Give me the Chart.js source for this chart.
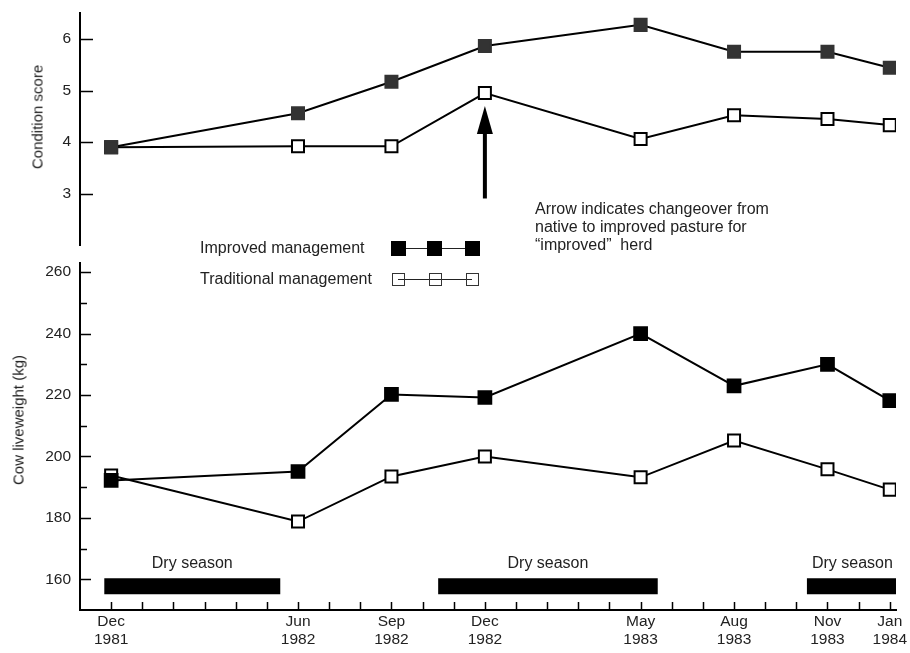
<!DOCTYPE html>
<html>
<head>
<meta charset="utf-8">
<script src="https://cdn.jsdelivr.net/npm/chart.js@4"></script>
<style>
	body { margin: 0; background: #fff; width: 910px; height: 653px; position: relative; overflow: hidden;
		font-family: "Liberation Sans", Arial, sans-serif; color: #222; }
	#topChart { position: absolute; left: 0; top: 0; }
	#bottomChart { position: absolute; left: 0; top: 250px; }
	.txt { position: absolute; font-size: 16px; line-height: 18px; white-space: nowrap; }
	.ytitle { position: absolute; font-size: 15px; white-space: nowrap; transform: translate(-50%, -50%) rotate(-90deg); }
	.lline { position: absolute; height: 1px; background: #222; }
	.lbox { position: absolute; box-sizing: border-box; }
</style>
</head>
<body>
<canvas id="topChart" width="910" height="256"></canvas>
<canvas id="bottomChart" width="910" height="403"></canvas>

<div class="ytitle" style="left:37px; top:117px;">Condition score</div>
<div class="ytitle" style="left:18px; top:420px;">Cow liveweight (kg)</div>

<div class="txt" style="left:535px; top:200px;">Arrow indicates changeover from<br>native to improved pasture for<br>“improved”&nbsp; herd</div>

<div class="txt" style="left:200px; top:239px;">Improved management</div>
<div class="txt" style="left:200px; top:270px;">Traditional management</div>
<div class="lline" style="left:398px; top:248px; width:74px;"></div>
<div class="lbox" style="left:391px; top:241px; width:15px; height:15px; background:#000;"></div>
<div class="lbox" style="left:427px; top:241px; width:15px; height:15px; background:#000;"></div>
<div class="lbox" style="left:465px; top:241px; width:15px; height:15px; background:#000;"></div>
<div class="lline" style="left:398px; top:279px; width:74px;"></div>
<div class="lbox" style="left:392px; top:273px; width:13px; height:13px; border:1.5px solid #333; background:transparent;"></div>
<div class="lbox" style="left:429px; top:273px; width:13px; height:13px; border:1.5px solid #333; background:transparent;"></div>
<div class="lbox" style="left:466px; top:273px; width:13px; height:13px; border:1.5px solid #333; background:transparent;"></div>

<script>
// months counted from Dec 1981
const months = [0, 6, 9, 12, 17, 20, 23, 25];
const tickMonths = ['Dec', 'Jun', 'Sep', 'Dec', 'May', 'Aug', 'Nov', 'Jan'];
const tickYears = ['1981', '1982', '1982', '1982', '1983', '1983', '1983', '1984'];

const scoreImproved = [3.9, 4.56, 5.17, 5.86, 6.27, 5.75, 5.75, 5.44];
const scoreTraditional = [3.9, 3.92, 3.92, 4.95, 4.06, 4.52, 4.45, 4.33];

const weightImproved = [192.2, 195.1, 220.2, 219.2, 240, 223, 230, 218.2];
const weightTraditional = [193.8, 178.8, 193.5, 200, 193.2, 205.2, 195.8, 189.2];

const drySeasonStart = [-0.22, 10.5, 22.34];
const drySeasonEnd = [5.43, 17.55, 25.26];
const drySeasonLevel = 157.7;

const arrowMonth = 12;
const arrowFrom = 2.91;
const arrowTo = 4.7;

const scoreTicks = [3, 4, 5, 6];
const weightTicks = [160, 170, 180, 190, 200, 210, 220, 230, 240, 250, 260];

Chart.defaults.font.family = '"Liberation Sans", Arial, sans-serif';
Chart.defaults.color = '#222';

const toPoints = (vals) => vals.map((v, i) => ({ x: months[i], y: v }));

// tick marks drawn inward, as in the original figure
const inwardTicks = {
	id: 'inwardTicks',
	afterDraw(chart, args, opts) {
		const ctx = chart.ctx;
		const area = chart.chartArea;
		const ys = chart.scales.y;
		const xs = chart.scales.x;
		ctx.save();
		ctx.strokeStyle = '#000';
		ctx.lineWidth = 1.5;
		ctx.beginPath();
		ys.ticks.forEach((t) => {
			const py = Math.round(ys.getPixelForValue(t.value)) + 0.5;
			const len = t.label !== '' ? opts.yMajor : opts.yMinor;
			ctx.moveTo(area.left, py);
			ctx.lineTo(area.left + len, py);
		});
		if (opts.xLen) {
			xs.ticks.forEach((t) => {
				const px = Math.round(xs.getPixelForValue(t.value)) + 0.5;
				ctx.moveTo(px, area.bottom);
				ctx.lineTo(px, area.bottom - opts.xLen);
			});
		}
		ctx.stroke();
		ctx.restore();
	}
};

const arrowPlugin = {
	id: 'arrowNote',
	afterDatasetsDraw(chart) {
		const ctx = chart.ctx;
		const xs = chart.scales.x;
		const ys = chart.scales.y;
		const px = xs.getPixelForValue(arrowMonth);
		const y0 = ys.getPixelForValue(arrowFrom);
		const y1 = ys.getPixelForValue(arrowTo);
		ctx.save();
		ctx.strokeStyle = '#000';
		ctx.fillStyle = '#000';
		ctx.lineWidth = 4;
		ctx.beginPath();
		ctx.moveTo(px, y0);
		ctx.lineTo(px, y1 + 20);
		ctx.stroke();
		ctx.beginPath();
		ctx.moveTo(px, y1);
		ctx.lineTo(px - 8, y1 + 28);
		ctx.lineTo(px + 8, y1 + 28);
		ctx.closePath();
		ctx.fill();
		ctx.restore();
	}
};

const dryLabels = {
	id: 'dryLabels',
	afterDatasetsDraw(chart) {
		const ctx = chart.ctx;
		const xs = chart.scales.x;
		const ys = chart.scales.y;
		ctx.save();
		ctx.fillStyle = '#222';
		ctx.font = '16px "Liberation Sans", Arial, sans-serif';
		ctx.textAlign = 'center';
		ctx.textBaseline = 'middle';
		drySeasonStart.forEach((s, i) => {
			const px = xs.getPixelForValue((s + drySeasonEnd[i]) / 2);
			const py = ys.getPixelForValue(drySeasonLevel) - 23;
			ctx.fillText('Dry season', px, py);
		});
		ctx.restore();
	}
};

const xScale = (show) => ({
	type: 'linear',
	min: -1,
	max: 25.2,
	display: show,
	grid: { display: false, drawTicks: false },
	border: { display: true, color: '#000', width: 2 },
	afterBuildTicks: (s) => {
		const t = [];
		for (let m = 0; m <= 25; m++) t.push({ value: m });
		s.ticks = t;
	},
	afterFit: (s) => {
		s.height = show ? 43 : 0;
		s.paddingLeft = 0;
		s.paddingRight = 0;
	},
	ticks: {
		autoSkip: false,
		maxRotation: 0,
		padding: 3,
		font: { size: 15.5, lineHeight: 1.16 },
		callback: (v) => {
			const i = months.indexOf(v);
			return i >= 0 ? [tickMonths[i], tickYears[i]] : '';
		}
	}
});

const yScale = (min, max, tickVals, labelEvery) => ({
	type: 'linear',
	min: min,
	max: max,
	grid: { display: false, drawTicks: false },
	border: { display: true, color: '#000', width: 2 },
	afterBuildTicks: (s) => { s.ticks = tickVals.map((v) => ({ value: v })); },
	afterFit: (s) => {
		s.width = 80;
		s.paddingTop = 0;
		s.paddingBottom = 0;
	},
	ticks: {
		padding: 9,
		font: { size: 15.5 },
		callback: (v) => (v % labelEvery === 0 ? String(v) : '')
	}
});

const seriesStyle = (fill, stroke, r) => ({
	borderColor: '#000',
	borderWidth: 2,
	pointStyle: 'rect',
	pointRadius: r,
	pointBackgroundColor: fill,
	pointBorderColor: stroke,
	pointBorderWidth: 2,
	tension: 0
});

new Chart(document.getElementById('topChart'), {
	type: 'line',
	data: {
		datasets: [
			Object.assign({ label: 'Improved management', data: toPoints(scoreImproved) }, seriesStyle('#333', '#333', 8.5)),
			Object.assign({ label: 'Traditional management', data: toPoints(scoreTraditional) }, seriesStyle('#fff', '#000', 8.5))
		]
	},
	options: {
		responsive: false,
		animation: false,
		layout: { padding: { left: 0, right: 14, top: 13, bottom: 5 } },
		plugins: { legend: { display: false }, tooltip: { enabled: false }, inwardTicks: { yMajor: 13, yMinor: 7, xLen: 0 } },
		scales: {
			x: xScale(false),
			y: yScale(2, 6.5, scoreTicks, 1)
		}
	},
	plugins: [inwardTicks, arrowPlugin]
});

const dryDatasets = drySeasonStart.map((s, i) => ({
	label: 'Dry season',
	data: [{ x: s, y: drySeasonLevel }, { x: drySeasonEnd[i], y: drySeasonLevel }],
	borderColor: '#000',
	borderWidth: 16,
	borderCapStyle: 'butt',
	pointRadius: 0
}));

new Chart(document.getElementById('bottomChart'), {
	type: 'line',
	data: {
		datasets: [
			Object.assign({ label: 'Improved management', data: toPoints(weightImproved) }, seriesStyle('#000', '#000', 9)),
			Object.assign({ label: 'Traditional management', data: toPoints(weightTraditional) }, seriesStyle('#fff', '#000', 8.5))
		].concat(dryDatasets)
	},
	options: {
		responsive: false,
		animation: false,
		layout: { padding: { left: 0, right: 14, top: 13, bottom: 0 } },
		plugins: { legend: { display: false }, tooltip: { enabled: false }, inwardTicks: { yMajor: 11, yMinor: 7, xLen: 8 } },
		scales: {
			x: xScale(true),
			y: yScale(150, 263, weightTicks, 20)
		}
	},
	plugins: [inwardTicks, dryLabels]
});
</script>
</body>
</html>
